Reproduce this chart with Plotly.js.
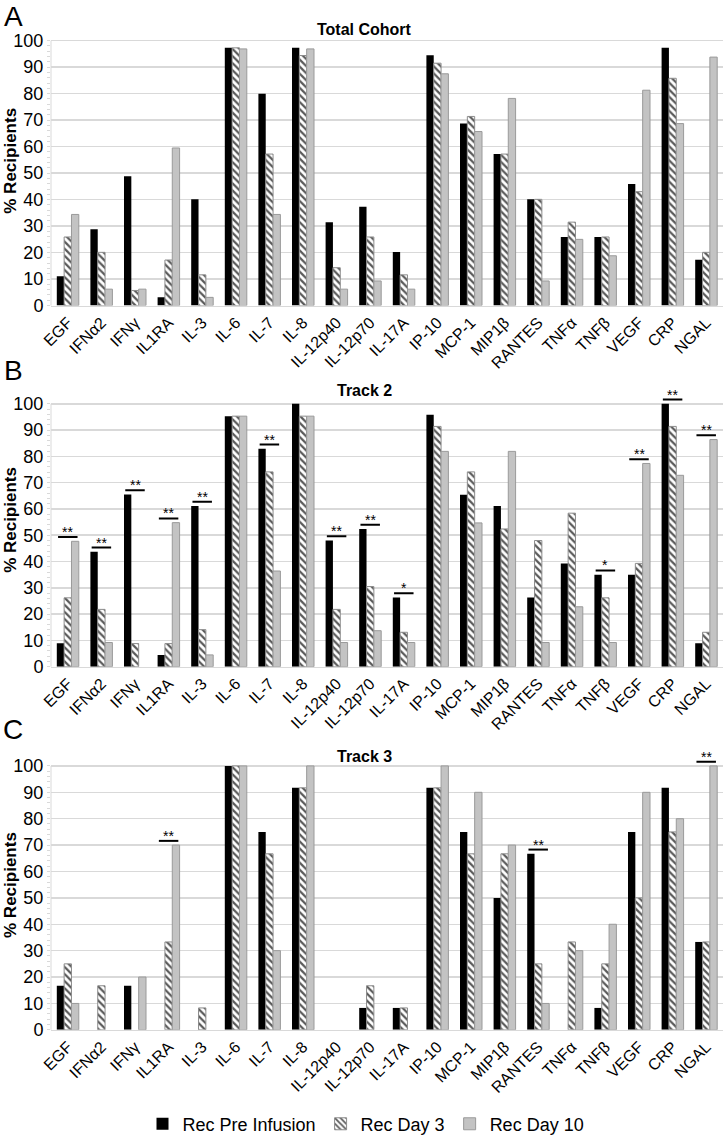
<!DOCTYPE html>
<html>
<head>
<meta charset="utf-8">
<script src="https://cdn.plot.ly/plotly-3.0.1.min.js"></script>
<style>html,body{margin:0;padding:0;background:#fff;}#chart{width:723px;height:1143px;}</style>
</head>
<body>
<div id="chart"></div>
<script>
const categories = ['EGF','IFNα2','IFNγ','IL1RA','IL-3','IL-6','IL-7','IL-8','IL-12p40','IL-12p70','IL-17A','IP-10','MCP-1','MIP1β','RANTES','TNFα','TNFβ','VEGF','CRP','NGAL'];
const seriesNames = ['Rec Pre Infusion','Rec Day 3','Rec Day 10'];
const panelTitles = ['Total Cohort','Track 2','Track 3'];
const panelLetters = ['A','B','C'];
const yTickVals = [0,10,20,30,40,50,60,70,80,90,100];

const totalPre   = [11.1, 28.8, 48.8, 3.1, 40.1, 97.3, 80.0, 97.3, 31.5, 37.3, 20.2, 94.5, 68.7, 57.2, 40.1, 25.9, 25.9, 45.9, 97.3, 17.3];
const totalDay3  = [25.9, 20.1, 5.7, 17.2, 11.6, 97.3, 57.2, 94.4, 14.3, 25.9, 11.6, 91.5, 71.4, 57.2, 40.1, 31.5, 25.9, 43.0, 85.8, 20.1];
const totalDay10 = [34.4, 6.2, 6.2, 59.5, 3.1, 96.9, 34.4, 96.9, 6.2, 9.3, 6.2, 87.5, 65.7, 78.2, 9.3, 25.0, 18.8, 81.3, 68.7, 93.8];

const track2Pre   = [8.9, 43.7, 65.5, 4.5, 61.1, 95.3, 82.9, 100, 48.0, 52.4, 26.3, 95.8, 65.4, 61.1, 26.3, 39.3, 35.0, 35.0, 100, 8.9];
const track2Day3  = [26.2, 21.8, 8.8, 8.8, 14.1, 95.3, 74.1, 95.3, 21.8, 30.5, 13.1, 91.4, 74.1, 52.4, 48.0, 58.4, 26.2, 39.3, 91.4, 13.1];
const track2Day10 = [47.7, 9.2, 0, 54.8, 4.5, 95.3, 36.4, 95.3, 9.2, 13.7, 9.2, 81.9, 54.7, 81.9, 9.2, 22.8, 9.2, 77.3, 72.8, 86.4];

const track3Pre   = [16.7, 0, 16.7, 0, 0, 100, 75.0, 91.7, 0, 8.3, 8.3, 91.7, 75.0, 50.0, 66.7, 0, 8.3, 75.0, 91.7, 33.3];
const track3Day3  = [25.0, 16.7, 0, 33.3, 8.3, 100, 66.7, 91.7, 0, 16.7, 8.3, 91.7, 66.7, 66.7, 25.0, 33.3, 25.0, 50.0, 75.0, 33.3];
const track3Day10 = [10.0, 0, 20.0, 70.0, 0, 100, 30.0, 100, 0, 0, 0, 100, 90.0, 70.0, 10.0, 30.0, 40.0, 90.0, 80.0, 100];

const sigTotalCats = [];
const sigTotalMarks = [];
const sigTrack2Cats = ['EGF','IFNα2','IFNγ','IL1RA','IL-3','IL-7','IL-12p40','IL-12p70','IL-17A','TNFβ','VEGF','CRP','NGAL'];
const sigTrack2Marks = ['**','**','**','**','**','**','**','**','*','*','**','**','**'];
const sigTrack3Cats = ['IL1RA','RANTES','NGAL'];
const sigTrack3Marks = ['**','**','**'];

const panels = [
  {pre: totalPre, d3: totalDay3, d10: totalDay10, sigCats: sigTotalCats, sigMarks: sigTotalMarks, top: 41, bottom: 308, letterTop: 0, titleY: 30, ytY: 162},
  {pre: track2Pre, d3: track2Day3, d10: track2Day10, sigCats: sigTrack2Cats, sigMarks: sigTrack2Marks, top: 407, bottom: 672, letterTop: 357, titleY: 394, ytY: 524},
  {pre: track3Pre, d3: track3Day3, d10: track3Day10, sigCats: sigTrack3Cats, sigMarks: sigTrack3Marks, top: 772, bottom: 1038, letterTop: 719, titleY: 762, ytY: 892}
];

const W = 723, H = 1143, L = 51, R = 0;
const PW = W - L - R;
const px2x = p => (p - L) / PW;
const px2y = p => 1 - p / H;
const font = 'Liberation Sans, Arial, sans-serif';
const idx = categories.map((c, i) => i);
const YMAX = 100, YEXT = 4;
const minorVals = [];
for (let v = 2; v < YMAX; v += 2) if (v % 10 !== 0) minorVals.push(v);
const lineW = (arr, w) => arr.map(v => (v > 0 ? w : 0));

const data = [];
const layout = {
  width: W, height: H,
  margin: {l: L, r: R, t: 0, b: 0, pad: 0},
  paper_bgcolor: '#fff', plot_bgcolor: '#fff',
  font: {family: font, color: '#000'},
  barmode: 'group', bargap: 0.345, bargroupgap: 0,
  showlegend: true,
  legend: {orientation: 'h', x: px2x(366), xanchor: 'center', y: px2y(1133), yanchor: 'middle',
           font: {size: 18, family: font}, itemgap: 0, traceorder: 'normal'},
  annotations: [], shapes: []
};

panels.forEach((p, k) => {
  const sfx = k === 0 ? '' : String(k + 1);
  const xa = 'x' + sfx, ya = 'y' + sfx;
  const pxPerUnit = (p.bottom - p.top) / YMAX;
  const domTopPx = p.top - YEXT * pxPerUnit;
  const common = {type: 'bar', x: idx, xaxis: xa, yaxis: ya, hoverinfo: 'y'};
  data.push(Object.assign({}, common, {name: seriesNames[0], y: p.pre, showlegend: k === 0,
    legendgroup: 'a', marker: {color: '#000000', line: {color: '#000000', width: 0}}}));
  data.push(Object.assign({}, common, {name: seriesNames[1], y: p.d3, showlegend: k === 0,
    legendgroup: 'b', marker: {color: '#ffffff', line: {color: '#8c8c8c', width: lineW(p.d3, 1)},
      pattern: {shape: '\\', fgcolor: '#5a5a5a', bgcolor: '#ffffff', size: 5, solidity: 0.45, fillmode: 'replace'}}}));
  data.push(Object.assign({}, common, {name: seriesNames[2], y: p.d10, showlegend: k === 0,
    legendgroup: 'c', marker: {color: '#c3c3c3', line: {color: '#9a9a9a', width: lineW(p.d10, 1)}}}));

  // significance bars
  const lx = [], ly = [];
  p.sigCats.forEach((c, j) => {
    const i = categories.indexOf(c);
    const top = Math.max(p.pre[i], p.d3[i], p.d10[i]) + 1.6;
    lx.push(i - 0.29, i + 0.29, null);
    ly.push(top, top, null);
    layout.annotations.push({xref: xa, yref: ya, x: i, y: top, text: p.sigMarks[j], showarrow: false,
      yanchor: 'bottom', yshift: -5, font: {size: 14, family: font, color: '#000'}});
  });
  if (lx.length) {
    data.push({type: 'scatter', mode: 'lines', x: lx, y: ly, xaxis: xa, yaxis: ya, cliponaxis: false,
      line: {color: '#000', width: 2}, showlegend: false, hoverinfo: 'skip'});
  }

  layout['xaxis' + sfx] = {
    domain: [0, 1], anchor: ya, range: [-0.5, categories.length - 0.5],
    tickmode: 'array', tickvals: idx, ticktext: categories, tickangle: -45,
    tickfont: {size: 16, family: font}, ticks: '', showgrid: false, zeroline: false,
    showline: true, linecolor: '#d9d9d9', linewidth: 1.5, fixedrange: true
  };
  layout['yaxis' + sfx] = {
    domain: [px2y(p.bottom), px2y(domTopPx)], anchor: xa, range: [0, YMAX + YEXT],
    tickmode: 'array', tickvals: yTickVals, tickfont: {size: 18, family: font},
    showgrid: true, gridcolor: '#d9d9d9', gridwidth: 1.5, zeroline: false,
    showline: false,
    ticks: 'outside', ticklen: 3, tickcolor: '#d9d9d9',
    minor: {tickmode: 'array', tickvals: minorVals, ticks: 'outside', ticklen: 3, tickcolor: '#d9d9d9', showgrid: false},
    fixedrange: true
  };
  layout.shapes.push({type: 'line', xref: 'paper', yref: 'paper', x0: 0, x1: 0,
    y0: px2y(p.bottom), y1: px2y(p.top), line: {color: '#d9d9d9', width: 1}});

  layout.annotations.push({xref: 'paper', yref: 'paper', x: px2x(13), y: px2y(p.letterTop), text: panelLetters[k],
    showarrow: false, xanchor: 'center', yanchor: 'top', borderpad: 0, font: {size: 28, family: font, color: '#000'}});
  layout.annotations.push({xref: 'paper', yref: 'paper', x: px2x(364), y: px2y(p.titleY), text: '<b>' + panelTitles[k] + '</b>',
    showarrow: false, xanchor: 'center', yanchor: 'middle', font: {size: 16, family: font, color: '#000'}});
  layout.annotations.push({xref: 'paper', yref: 'paper', x: px2x(11), y: px2y(p.ytY), text: '<b>% Recipients</b>',
    textangle: -90, showarrow: false, xanchor: 'center', yanchor: 'middle', font: {size: 17, family: font, color: '#000'}});
});

Plotly.newPlot('chart', data, layout, {displayModeBar: false, staticPlot: true});
</script>
</body>
</html>
